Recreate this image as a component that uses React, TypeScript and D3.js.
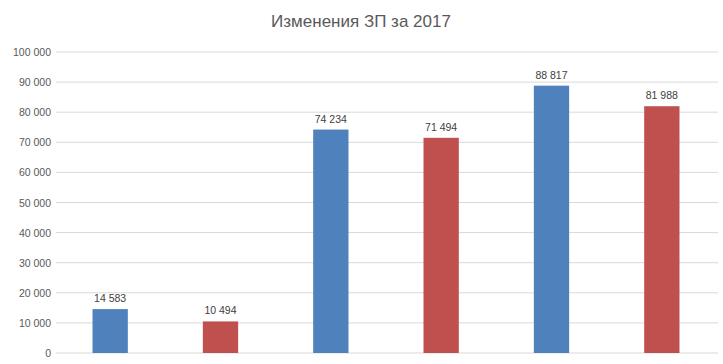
import React from "react";
import * as d3 from "d3";

const categories = ["a1", "b1", "a2", "b2", "a3", "b3"];
const values = [14583, 10494, 74234, 71494, 88817, 81988];
const colors = ["#4F81BD", "#C0504D", "#4F81BD", "#C0504D", "#4F81BD", "#C0504D"];
const ticks = [0, 10000, 20000, 30000, 40000, 50000, 60000, 70000, 80000, 90000, 100000];

const W = 723;
const H = 364;
const fmt = (v: number) => d3.format(",")(v).replace(/,/g, " ");

export default function App() {
  const x = d3.scaleBand().domain(categories).range([55, 717]).paddingInner(0.68).paddingOuter(0.34);
  const y = d3.scaleLinear().domain([0, 100000]).range([353, 52]);
  const font = "'Liberation Sans', Arial, sans-serif";

  return (
    <svg width={W} height={H} style={{ position: "absolute", left: 0, top: 0, background: "#fff" }}>
      <text x={361} y={27} textAnchor="middle" fontFamily={font} fontSize={17} fill="#595959">
        Изменения ЗП за 2017
      </text>
      {ticks.map((t) => (
        <g key={t}>
          <line x1={56} x2={718} y1={y(t)} y2={y(t)} stroke="#d9d9d9" strokeWidth={1} />
          <text x={51} y={y(t) + 4} textAnchor="end" fontFamily={font} fontSize={10.5} fill="#595959">
            {fmt(t)}
          </text>
        </g>
      ))}
      {categories.map((c, i) => (
        <g key={c}>
          <rect x={x(c)} y={y(values[i])} width={x.bandwidth()} height={y(0) - y(values[i])} fill={colors[i]} />
          <text x={(x(c) || 0) + x.bandwidth() / 2} y={y(values[i]) - 7} textAnchor="middle" fontFamily={font} fontSize={10.5} fill="#404040">
            {fmt(values[i])}
          </text>
        </g>
      ))}
    </svg>
  );
}
